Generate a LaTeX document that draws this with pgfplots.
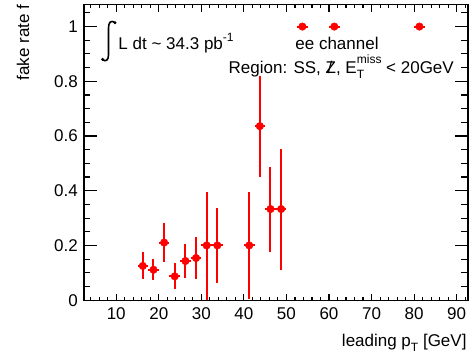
\documentclass[border=0pt]{standalone}
\usepackage{fontspec}
\setmainfont{Liberation Sans}
\usepackage{pgfplots}
\pgfplotsset{compat=1.18}
\newcommand{\sm}{\fontsize{12}{12}\selectfont}
\pgfplotsset{
  base/.style={
    at={(0,0)}, anchor=south west,
    width=384pt, height=296pt, scale only axis,
    xmin=2.35, xmax=92.6, ymin=-0.002, ymax=1.08,
    every tick/.style={line width=1.1pt, black},
    /pgf/number format/assume math mode=true,
    ticklabel style={font=\fontsize{17}{20}\selectfont},
    clip=false,
  }
}
\begin{document}
\fontsize{17}{20}\selectfont
\begin{tikzpicture}
% axis with y ticks and the data
\begin{axis}[base,
  xtick=\empty,
  ytick={0,0.2,0.4,0.6,0.8,1},
  yticklabels={0,0.2,0.4,0.6,0.8,1},
  minor y tick num=3,
  major tick length=13pt, minor tick length=6.5pt,
]
\addplot[only marks, mark=*, mark size=3.8pt, color=red,
  error bars/.cd, x dir=both, x explicit, y dir=both, y explicit,
  error mark=none, error bar style={line width=2pt, red}]
coordinates {
  (16.25,0.125)  += (1.25,0.050) -= (1.25,0.049)
  (18.75,0.111)  += (1.25,0.038) -= (1.25,0.039)
  (21.25,0.2105) += (1.25,0.072) -= (1.25,0.072)
  (23.75,0.087)  += (1.25,0.047) -= (1.25,0.048)
  (26.25,0.143)  += (1.25,0.062) -= (1.25,0.062)
  (28.75,0.154)  += (1.25,0.076) -= (1.25,0.076)
  (31.25,0.200)  += (1.25,0.197) -= (1.25,0.198)
  (33.75,0.200)  += (1.25,0.137) -= (1.25,0.139)
  (41.25,0.200)  += (1.25,0.197) -= (1.25,0.197)
  (43.75,0.636)  += (1.25,0.185) -= (1.25,0.187)
  (46.25,0.333)  += (1.25,0.155) -= (1.25,0.156)
  (48.75,0.333)  += (1.25,0.219) -= (1.25,0.221)
  (53.75,1.000)  += (1.25,0) -= (1.25,0)
  (61.25,1.000)  += (1.25,0) -= (1.25,0)
  (81.25,1.000)  += (1.25,0) -= (1.25,0)
};
\end{axis}
% axis with x ticks only
\begin{axis}[base,
  ytick=\empty,
  xtick={10,20,...,90},
  minor x tick num=4,
  major tick length=7pt, minor tick length=3.5pt,
  xticklabel style={yshift=-1pt},
]
\end{axis}
% tick marks (frame decoration), inside on all four sides
\foreach \i in {0,...,21} {
  \pgfmathsetmacro\yy{(\i*0.05+0.002)*273.57}
  \pgfmathsetmacro\L{mod(\i,4)==0 ? 13 : 6.5}
  \draw[line width=1.1pt] (0pt,\yy pt) -- ++(\L pt,0pt);
  \draw[line width=1.1pt] (384pt,\yy pt) -- ++(-\L pt,0pt);
}
\foreach \i in {2,...,46} {
  \pgfmathsetmacro\xx{(2*\i-2.35)*4.25485}
  \pgfmathsetmacro\L{mod(\i,5)==0 ? 7 : 3.5}
  \draw[line width=1.1pt] (\xx pt,0pt) -- ++(0pt,\L pt);
  \draw[line width=1.1pt] (\xx pt,296pt) -- ++(0pt,-\L pt);
}
% thicker frame
\draw[line width=1.1pt] (0,0) rectangle (384pt,296pt);
% y label
\node[rotate=90, anchor=east, inner sep=0pt] at (-60.7pt,296pt) {fake rate f};
% x label
\node[anchor=base east, inner sep=0pt] at (383pt,-46pt) {leading p\raisebox{-0.55ex}{\sm T} [GeV]};
% integral sign
\draw[line width=1.6pt, line cap=round] (31.3pt,278.2pt) .. controls (27pt,281pt) and (24.8pt,278pt) .. (24.8pt,272.7pt)
  -- (24.8pt,245.7pt) .. controls (24.8pt,240.5pt) and (22pt,238.5pt) .. (18.8pt,241.2pt);
\fill (31.3pt,278pt) circle (1.6pt);
\fill (18.9pt,241.3pt) circle (1.6pt);
\node[anchor=base west, inner sep=0pt] at (34.6pt,250.7pt) {L dt \textasciitilde{} 34.3 pb\raisebox{1.0ex}{\sm -1}};
\node[anchor=base, inner sep=0pt] at (253.3pt,251.4pt) {ee channel};
\node[anchor=base east, inner sep=0pt] at (370.3pt,227.4pt) {Region: SS,  \makebox[0pt][l]{\kern0.12em/}Z, E\rlap{\raisebox{-0.6ex}{\sm T}}\raisebox{1.05ex}{\sm miss} < 20GeV};
\pgfresetboundingbox
\path[use as bounding box] (-83.7pt,-62.3pt) rectangle (387.3pt,300.7pt);
\end{tikzpicture}
\end{document}
